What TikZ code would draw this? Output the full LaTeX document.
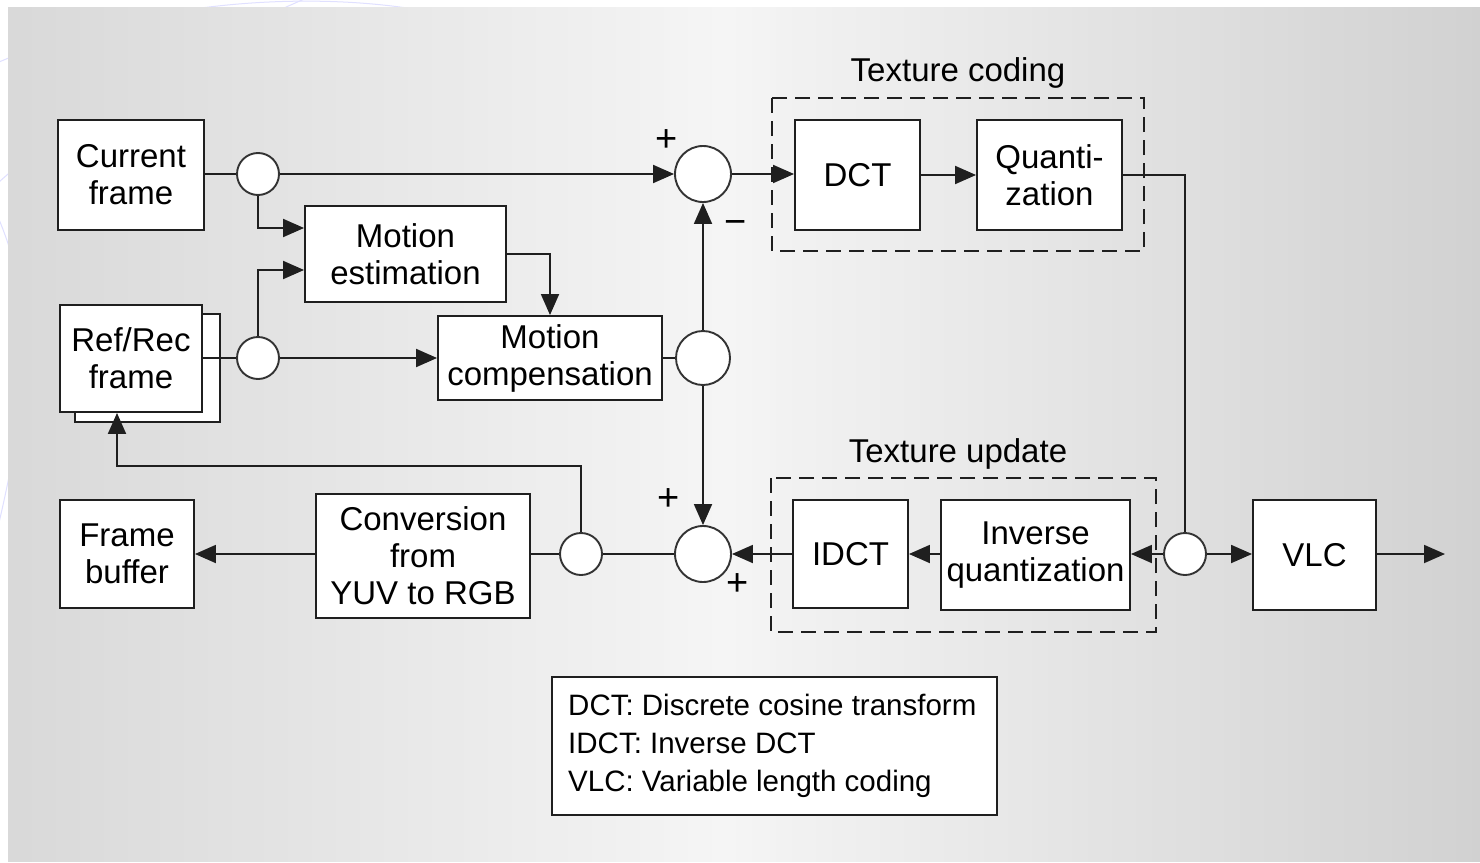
\documentclass[tikz,border=0pt]{standalone}
\usepackage{fontspec}
\setmainfont{Liberation Sans}
\usetikzlibrary{arrows.meta,calc}
\begin{document}
\begin{tikzpicture}[x=1pt,y=-1pt,
  lc/.style={draw=black!88,line width=1.9pt},
  blk/.style={lc,fill=white,inner sep=0pt,align=center,font=\fontsize{33}{37}\selectfont},
  jn/.style={circle,draw=black!80,line width=1.9pt,fill=white,inner sep=0pt},
  arr/.style={lc,-{Triangle[length=21pt,width=18pt]}},
  ln/.style={lc},
  dbox/.style={draw=black!88,line width=1.9pt,dash pattern=on 15pt off 8pt},
  sgn/.style={font=\fontsize{38}{38}\selectfont,inner sep=0pt},
  ttl/.style={font=\fontsize{33}{37}\selectfont,inner sep=0pt}
]
\useasboundingbox (0,0) rectangle (1480,862);
\fill[white] (0,0) rectangle (1480,862);
% faint decoration in margin
\begin{scope}
\clip (0,0) rectangle (1480,8) (0,0) rectangle (8,862);
\draw[blue!12,line width=1pt] (-40,80) .. controls (120,0) and (300,-10) .. (420,10);
\draw[blue!12,line width=1pt] (-20,200) .. controls (60,120) and (200,40) .. (350,-20);
\draw[blue!12,line width=1pt] (-10,560) .. controls (30,400) and (40,300) .. (-10,200);
\end{scope}
% background gradient as strips
\foreach \i in {0,...,184}{
  \pgfmathsetmacro{\xa}{8+8*\i}
  \pgfmathsetmacro{\p}{\xa<720 ? 15-11*(\xa-8)/712 : 4+14*(\xa-720)/760}
  \fill[black!\p] (\xa,7) rectangle ({\xa+8.6},862);
}

% back frame of Ref/Rec
\draw[lc,fill=white] (75,314) rectangle (220,422);

% blocks
\node[blk,minimum width=146pt,minimum height=110pt] (cur) at (131,175) {Current\\frame};
\node[blk,minimum width=201pt,minimum height=96pt] (me) at (405.5,254) {Motion\\estimation};
\node[blk,minimum width=142pt,minimum height=107pt] (ref) at (131,358.5) {Ref/Rec\\frame};
\node[blk,minimum width=224pt,minimum height=84pt] (mc) at (550,358) {Motion\\compensation};
\node[blk,minimum width=125pt,minimum height=110pt] (dct) at (857.5,175) {DCT};
\node[blk,minimum width=145pt,minimum height=110pt] (qt) at (1049.5,175) {Quanti-\\zation};
\node[blk,minimum width=115pt,minimum height=108pt] (idct) at (850.5,554) {IDCT};
\node[blk,minimum width=189pt,minimum height=110pt] (iq) at (1035.5,555) {Inverse\\quantization};
\node[blk,minimum width=123pt,minimum height=110pt] (vlc) at (1314.5,555) {VLC};
\node[blk,minimum width=214pt,minimum height=124pt] (conv) at (423,556) {Conversion\\from\\YUV to RGB};
\node[blk,minimum width=134pt,minimum height=108pt] (fb) at (127,554) {Frame\\buffer};

% dashed groups
\draw[dbox] (772,98) rectangle (1144,251);
\draw[dbox] (771,478) rectangle (1156,632);
\node[ttl] (tcl) at (958,73) {Texture coding};
\node[ttl] (tul) at (958,454) {Texture update};

% junctions
\node[jn,minimum size=42pt] (c1) at (258,174) {};
\node[jn,minimum size=42pt] (c2) at (258,358) {};
\node[jn,minimum size=56pt] (s1) at (703,174) {};
\node[jn,minimum size=54pt] (c3) at (703,358) {};
\node[jn,minimum size=56pt] (s2) at (703,554) {};
\node[jn,minimum size=42pt] (c5) at (581,554) {};
\node[jn,minimum size=42pt] (c4) at (1185,554) {};
\coordinate (out) at (1445,554);
\coordinate (fbk) at (117,466);

% connectors
\draw[ln] (cur.east |- c1) -- (c1);
\draw[arr] (c1) -- (s1);
\draw[arr] (c1.south) |- ([yshift=26pt]me.west);
\draw[ln] (ref.east |- c2) -- (c2);
\draw[arr] (c2.north) |- ([yshift=-16pt]me.west);
\draw[arr] (c2) -- (mc.west |- c2);
\draw[arr] (me.east) -| (mc.north);
\draw[ln] (mc.east) -- (c3);
\draw[arr] (c3) -- (s1);
\draw[arr] (c3) -- (s2);
\draw[arr] (s1) -- (dct.west |- s1);
\draw[arr] (dct) -- (qt);
\draw[ln] (qt.east) -| (c4.north);
\draw[arr] (c4) -- (vlc.west |- c4);
\draw[arr] (vlc.east |- c4) -- (out);
\draw[arr] (c4) -- (iq.east |- c4);
\draw[arr] (iq.west |- c4) -- (idct.east |- c4);
\draw[arr] (idct.west |- c4) -- (s2);
\draw[ln] (s2) -- (c5);
\draw[ln] (c5) -- (conv.east |- c5);
\draw[arr] (conv.west |- c5) -- (fb.east |- c5);
\draw[arr] (c5.north) |- (fbk) -- (fbk |- ref.south);

% signs
\node[sgn] (p1) at (667,141) {+};
\node[sgn] (m1) at (736,228) {\textminus};
\node[sgn] (p2) at (669,500) {+};
\node[sgn] (p3) at (738,585) {+};

% legend
\node[draw=black!88,line width=1.6pt,fill=white,minimum width=445pt,minimum height=138pt,inner sep=0pt] (leg) at (774.5,746) {};
\node[anchor=west,align=left,inner sep=0pt,font=\fontsize{29.5}{38}\selectfont] (legt) at (568,746) {DCT: Discrete cosine transform\\IDCT: Inverse DCT\\VLC: Variable length coding};
\end{tikzpicture}
\end{document}
